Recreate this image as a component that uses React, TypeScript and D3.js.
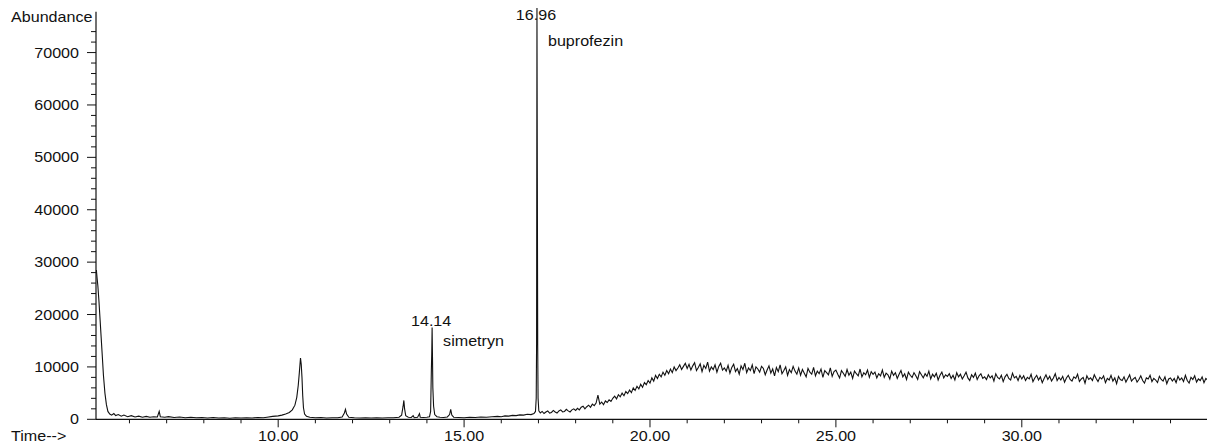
import React from "react";
import * as d3 from "d3";

// retention time (min) vs abundance, early part of the run incl. the labelled peaks
const earlyTrace: [number, number][] = [
  [5.11, 28500], [5.13, 26900], [5.15, 25500], [5.18, 22500], [5.21, 19000], [5.24, 15500],
  [5.27, 12000], [5.3, 8400], [5.34, 5000], [5.38, 2800], [5.42, 1500], [5.47, 1000],
  [5.52, 800], [5.58, 1100], [5.63, 700], [5.7, 900], [5.78, 600], [5.85, 800], [5.95, 500],
  [6.05, 700], [6.15, 450], [6.25, 600], [6.35, 400], [6.45, 550], [6.55, 400], [6.65, 500],
  [6.75, 450], [6.8, 1500], [6.83, 500], [6.95, 400], [7.05, 500], [7.2, 350], [7.35, 450],
  [7.5, 300], [7.65, 400], [7.8, 300], [7.95, 350], [8.1, 250], [8.25, 350], [8.4, 250],
  [8.55, 300], [8.7, 200], [8.85, 300], [9.0, 250], [9.15, 300], [9.3, 250], [9.45, 350],
  [9.6, 300], [9.7, 400], [9.85, 550], [10.0, 650], [10.1, 800], [10.2, 1000], [10.3, 1300],
  [10.38, 1800], [10.45, 2700], [10.5, 4200], [10.54, 6500], [10.57, 9000], [10.6, 11700],
  [10.62, 10500], [10.64, 8000], [10.66, 4500], [10.68, 2200], [10.71, 1000], [10.76, 600],
  [10.85, 400], [11.0, 300], [11.15, 350], [11.3, 250], [11.45, 300], [11.6, 300], [11.72, 450],
  [11.78, 1200], [11.81, 1900], [11.84, 1000], [11.9, 400], [12.05, 300], [12.2, 250],
  [12.35, 300], [12.5, 250], [12.65, 300], [12.8, 250], [12.95, 300], [13.1, 300], [13.25, 400],
  [13.32, 800], [13.36, 2500], [13.38, 3600], [13.4, 2000], [13.43, 700], [13.5, 400],
  [13.58, 350], [13.63, 700], [13.66, 300], [13.75, 400], [13.8, 1100], [13.82, 400],
  [13.9, 350], [14.0, 400], [14.07, 500], [14.1, 1500], [14.12, 9500], [14.13, 12500],
  [14.14, 17500], [14.15, 12000], [14.16, 6000], [14.18, 2500], [14.21, 900], [14.27, 500],
  [14.35, 400], [14.45, 350], [14.55, 450], [14.61, 900], [14.64, 1900], [14.67, 800],
  [14.72, 400], [14.85, 350], [15.0, 300], [15.15, 400], [15.3, 350], [15.45, 450], [15.6, 400],
  [15.75, 500], [15.9, 550], [16.0, 500], [16.1, 650], [16.2, 600], [16.3, 750], [16.4, 700],
  [16.5, 850], [16.6, 800], [16.7, 950], [16.8, 900], [16.88, 1100], [16.92, 1500],
  [16.94, 4000], [16.95, 14500], [16.96, 78500], [16.97, 46000], [16.98, 14000],
  [16.99, 4000], [17.01, 1600],
];

// late part: one scan every 0.05 min from 17.05 on, abundance in hundreds
const lateStart = 17.05;
const lateStep = 0.05;
const lateHundreds = [
  12, 15, 11, 14, 16, 12, 13, 17, 14, 12, 16, 18, 14, 15, 19, 16, 14, 18, 20, 17,
  21, 18, 23, 25, 20, 24, 27, 23, 29, 26, 31, 46, 29, 33, 28, 35, 32, 37, 34, 40,
  44, 39, 47, 43, 50, 45, 53, 49, 56, 51, 60, 55, 63, 58, 67, 61, 70, 66, 74, 69,
  79, 73, 84, 78, 86, 81, 90, 84, 93, 87, 96, 89, 100, 93, 98, 104, 95, 101, 107, 97,
  105, 94, 102, 108, 93, 99, 106, 91, 103, 97, 109, 92, 100, 95, 104, 90, 101, 107, 94, 98,
  92, 103, 88, 99, 105, 91, 97, 86, 102, 95, 107, 89, 98, 93, 104, 87, 100, 96, 90, 101,
  97, 85, 94, 102, 88, 96, 83, 99, 91, 104, 87, 93, 100, 84, 95, 89, 101, 92, 86, 98,
  84, 95, 88, 81, 97, 90, 86, 99, 83, 92, 87, 96, 80, 93, 89, 85, 98, 82, 91, 94,
  86, 79, 93, 88, 82, 95, 84, 90, 78, 92, 87, 83, 96, 81, 89, 85, 94, 80, 91, 86,
  90, 79, 87, 83, 94, 80, 88, 85, 77, 92, 84, 89, 78, 86, 93, 81, 87, 76, 90, 84,
  80, 89, 83, 76, 91, 85, 79, 87, 82, 92, 77, 86, 81, 88, 75, 84, 90, 79, 85, 82,
  87, 78, 84, 75, 89, 81, 86, 77, 83, 90, 79, 74, 85, 80, 88, 76, 83, 87, 78, 81,
  76, 85, 79, 83, 73, 87, 80, 77, 84, 72, 81, 86, 78, 75, 88, 79, 82, 74, 84, 77,
  83, 74, 80, 77, 86, 72, 79, 84, 75, 81, 70, 78, 85, 76, 82, 73, 79, 87, 74, 80,
  75, 82, 71, 79, 84, 76, 73, 81, 78, 86, 72, 77, 80, 69, 83, 76, 79, 74, 85, 78,
  72, 80, 77, 83, 70, 78, 75, 84, 73, 79, 68, 82, 76, 74, 81, 71, 78, 85, 73, 77,
  80, 71, 76, 83, 74, 69, 79, 77, 84, 72, 78, 75, 70, 82, 76, 73, 81, 68, 77, 79,
  73, 78, 70, 82, 75, 79, 72, 84, 74, 69, 80, 76, 83, 71, 77, 74, 81, 70, 78, 75,
];

const yMajorTicks = [0, 10000, 20000, 30000, 40000, 50000, 60000, 70000];
const xMajorTicks = [10, 15, 20, 25, 30];
const peakLabels = [
  { t: 14.14, v: 17500, time: "14.14", name: "simetryn" },
  { t: 16.96, v: 78500, time: "16.96", name: "buprofezin" },
];

const W = 1207, H = 443;
const FONT = "'Liberation Sans', Arial, sans-serif";
const SX = 1.15; // the original lettering is a bit wider than Arial

const Txt = ({ x, y, anchor = "start", children }: any) => (
  <text
    transform={`translate(${x},${y}) scale(${SX},1)`}
    textAnchor={anchor}
    fontFamily={FONT}
    fontSize={14}
    fill="#111"
  >
    {children}
  </text>
);

export default function App() {
  const x = d3.scaleLinear().domain([5.1, 35]).range([96, 1207.7]);
  const y = d3.scaleLinear().domain([0, 77800]).range([419.3, 11.7]);

  const late: [number, number][] = lateHundreds.map((h, i) => [lateStart + i * lateStep, h * 100]);
  const trace = earlyTrace.concat(late);

  const line = d3
    .line<[number, number]>()
    .x(d => x(d[0]))
    .y(d => y(d[1]));

  const yMinor = d3.range(0, 76000, 2000);
  const xMinor = d3.range(6, 36, 1);
  const x0 = x(5.1), yBase = y(0);

  return (
    <svg width={W} height={H} style={{ position: "absolute", left: 0, top: 0, background: "#fff" }}>
      {/* axes */}
      <line x1={x0} x2={W} y1={yBase} y2={yBase} stroke="#111" strokeWidth={1.2} />
      <line x1={x0} x2={x0} y1={y.range()[1]} y2={yBase} stroke="#111" strokeWidth={1.2} />

      {yMinor.map(v => (
        <line key={"ym" + v} x1={x0 - (v % 10000 === 0 ? 9 : 5)} x2={x0} y1={y(v)} y2={y(v)} stroke="#111" />
      ))}
      {yMajorTicks.map(v => (
        <Txt key={"yl" + v} x={79} y={y(v) + 5} anchor="end">{v}</Txt>
      ))}
      <Txt x={11} y={22}>Abundance</Txt>

      {xMinor.map(t => (
        <line key={"xm" + t} x1={x(t)} x2={x(t)} y1={yBase} y2={yBase + (t % 5 === 0 ? 8 : 4)} stroke="#111" />
      ))}
      {xMajorTicks.map(t => (
        <Txt key={"xl" + t} x={x(t)} y={441} anchor="middle">{t.toFixed(2)}</Txt>
      ))}
      <Txt x={11} y={441}>Time--&gt;</Txt>

      {/* chromatogram */}
      <path d={line(trace) || ""} fill="none" stroke="#111" strokeWidth={1.1} />

      {peakLabels.map(p => {
        // the tallest peak runs off the top, so its label is pinned under the frame
        const ty = Math.max(y(p.v) - 2, 20);
        const ny = ty + (ty === 20 ? 26 : 20);
        return (
          <g key={p.time}>
            <Txt x={x(p.t) - 1} y={ty} anchor="middle">{p.time}</Txt>
            <Txt x={x(p.t) + 11} y={ny}>{p.name}</Txt>
          </g>
        );
      })}
    </svg>
  );
}
